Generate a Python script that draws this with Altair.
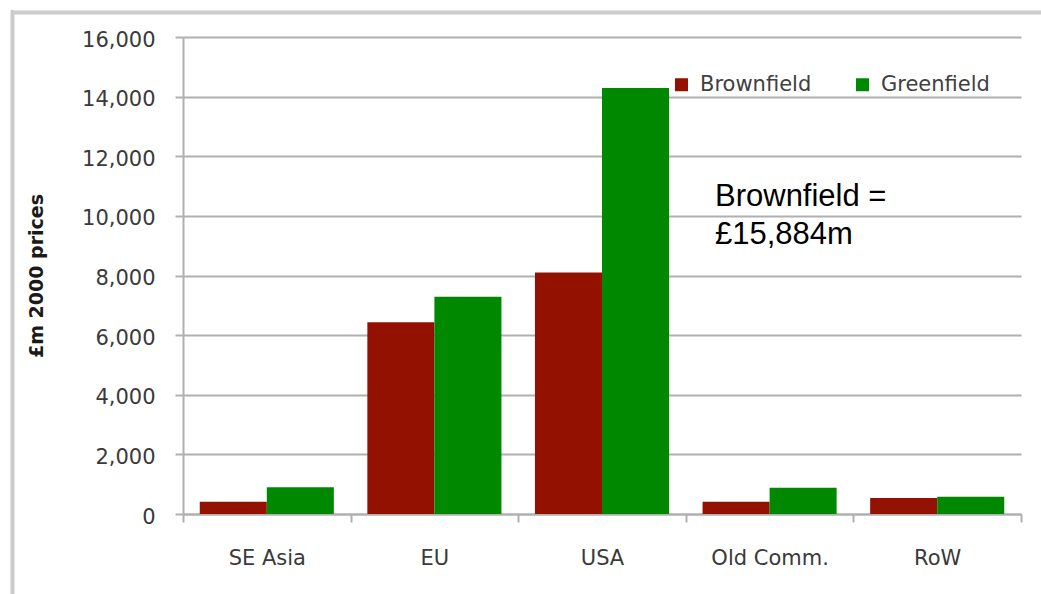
import altair as alt
import pandas as pd

# Investment by region, £m at 2000 prices
regions = ["SE Asia", "EU", "USA", "Old Comm.", "RoW"]
brownfield = [410, 6430, 8100, 410, 534]
greenfield = [900, 7290, 14290, 880, 580]
series = ["Brownfield", "Greenfield"]
colors = ["#921100", "#008900"]
y_ticks = [0, 2000, 4000, 6000, 8000, 10000, 12000, 14000, 16000]

rows = []
for r, b, g in zip(regions, brownfield, greenfield):
    rows.append({"Region": r, "Type": "Brownfield", "Value": b})
    rows.append({"Region": r, "Type": "Greenfield", "Value": g})
df = pd.DataFrame(rows)

total_brown = sum(brownfield)
note_text = f"Brownfield =\n£{total_brown:,}m"

W, H = 838, 477
LEFT, TOP = 183, 37
FONT = "DejaVu Sans"

bars = alt.Chart(df).mark_bar().encode(
    x=alt.X(
        "Region:N",
        sort=regions,
        # full-width bands so the extent ticks fall on category boundaries
        scale=alt.Scale(paddingInner=0, paddingOuter=0),
        axis=alt.Axis(
            title=None,
            labelAngle=0,
            tickBand="extent",
            tickSize=8,
            labelPadding=25,
            grid=False,
        ),
    ),
    # bar pair takes 80% of each category slot
    xOffset=alt.XOffset("Type:N", sort=series, scale=alt.Scale(paddingInner=0, paddingOuter=0.25)),
    y=alt.Y(
        "Value:Q",
        scale=alt.Scale(domain=[0, 16000], nice=False),
        axis=alt.Axis(
            title="£m 2000 prices",
            values=y_ticks,
            format=",d",
            tickSize=8,
            labelPadding=20,
            labelOffset=3,
            titleAngle=-90,
            titleX=-147,
            titleY=H / 2,
            titleAlign="center",
            titleBaseline="middle",
            titleFont=FONT,
            titleFontSize=19,
            titleFontWeight="bold",
            titleColor="#1a1a1a",
        ),
    ),
    color=alt.Color(
        "Type:N",
        sort=series,
        scale=alt.Scale(domain=series, range=colors),
        legend=alt.Legend(
            title=None,
            orient="none",
            direction="horizontal",
            legendX=488,
            legendY=37,
            symbolType="square",
            symbolSize=169,
            symbolStrokeWidth=0,
            symbolOpacity=1,
            labelFont=FONT,
            labelFontSize=21,
            labelColor="#404040",
            labelOffset=8,
            columnPadding=40,
        ),
    ),
)

note = alt.Chart(pd.DataFrame({"t": [note_text]})).mark_text(
    align="left",
    baseline="alphabetic",
    font="Liberation Sans",
    fontSize=31,
    lineHeight=37.5,
    lineBreak="\n",
    color="#000000",
).encode(x=alt.value(532), y=alt.value(169), text="t:N")

frame_data = alt.Data(values=[{}])
frame_top = alt.Chart(frame_data).mark_rule(color="#cccccc", strokeWidth=4).encode(
    x=alt.value(-171), x2=alt.value(1041 - LEFT), y=alt.value(12.5 - TOP)
)
frame_left = alt.Chart(frame_data).mark_rule(color="#cccccc", strokeWidth=4).encode(
    x=alt.value(12.5 - LEFT), y=alt.value(10 - TOP), y2=alt.value(594 - TOP)
)

chart = alt.layer(frame_top, frame_left, bars, note).properties(
    width=W,
    height=H,
    autosize=alt.AutoSizeParams(type="none"),
    padding={"left": LEFT, "top": TOP, "right": 1041 - LEFT - W, "bottom": 594 - TOP - H},
    background="white",
).configure_view(stroke=None).configure_axis(
    domainColor="#b0b0b0",
    domainWidth=2,
    tickColor="#b0b0b0",
    tickWidth=2,
    gridColor="#b0b0b0",
    gridWidth=2,
    labelFont=FONT,
    labelFontSize=21,
    labelColor="#3a3a3a",
)

chart.save("out.html", embed_options={"renderer": "svg", "actions": False})
